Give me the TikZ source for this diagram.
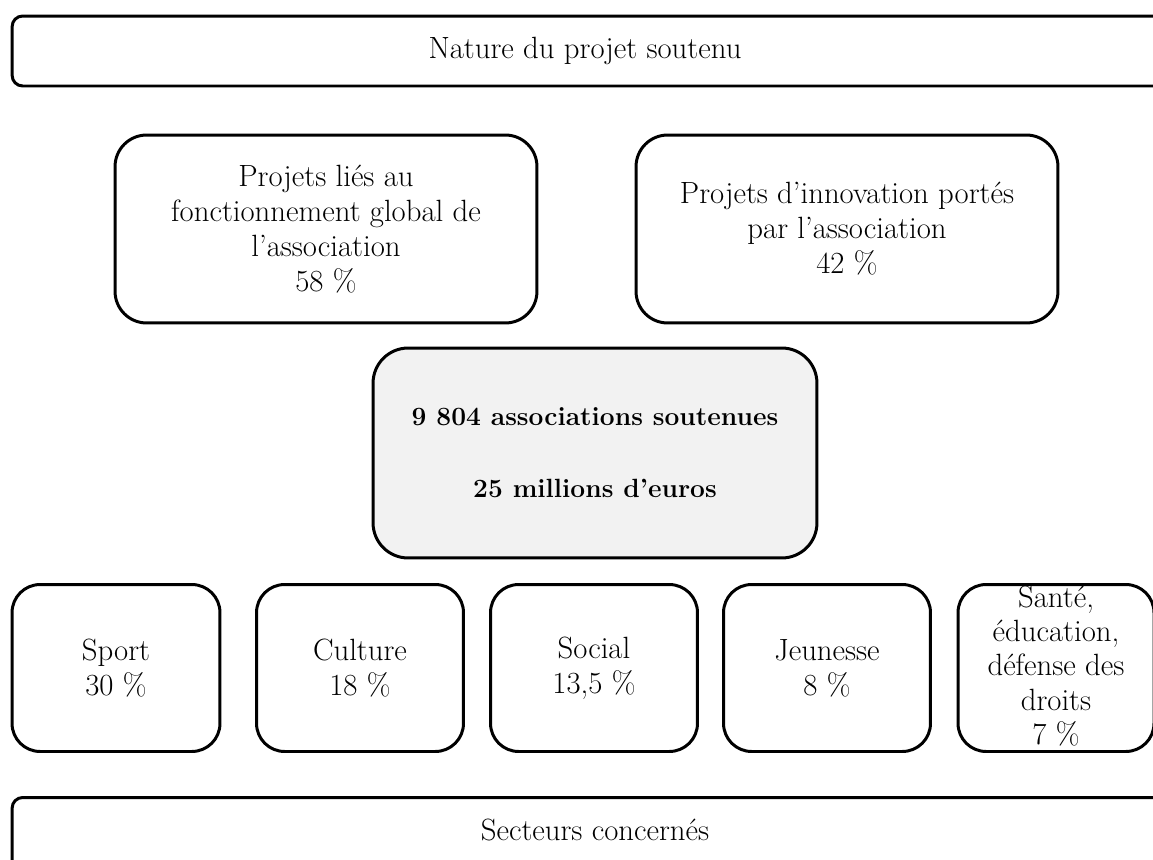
\documentclass[tikz,border=0pt]{standalone}
\usepackage{tikz}
\tikzset{
  cadre/.style={draw=black, line width=1.7pt, align=center, inner sep=0pt,
    font=\fontsize{17.5}{20}\selectfont},
  bandeau/.style={cadre, rounded corners=6pt, minimum height=1.4cm},
  bloc/.style={cadre, rounded corners=18pt, minimum height=3.76cm, minimum width=8.44cm},
  secteur/.style={cadre, rounded corners=16pt, minimum height=3.34cm, minimum width=4.14cm},
  texte/.style={align=center, inner sep=0pt, font=\fontsize{17.5}{20}\selectfont}
}
\begin{document}
\begin{tikzpicture}[x=0.02cm, y=-0.02cm]
    \useasboundingbox (0,0) rectangle (1153,859);
    \clip (0,0) rectangle (1153,859);
    % bandeau du haut
    \node[bandeau, minimum width=23.8cm] (nature) at (607,51) {};
    \node[texte] (nature-txt) at (585,51) {Nature du projet soutenu};
    % nature des projets
    \node[bloc] (global) at (326,229) {Projets liés au\\fonctionnement global de\\l’association\\58 \%};
    \node[bloc] (innov) at (847,229) {Projets d’innovation portés\\par l’association\\42 \%};
    % chiffres clés
    \node[cadre, fill=black!5, rounded corners=20pt, minimum width=8.88cm, minimum height=4.2cm,
          font=\fontsize{15}{19}\selectfont\bfseries] (total) at (595,453)
          {9 804 associations soutenues\\[22pt]25 millions d’euros};
    % secteurs
    \node[secteur, minimum width=4.16cm] (sport) at (116,668) {Sport\\30 \%};
    \node[secteur] (culture) at (360,668) {Culture\\18 \%};
    \node[secteur] (social) at (594,668) {Social\\13,5 \%};
    \node[secteur] (jeunesse) at (827,668) {Jeunesse\\8 \%};
    \node[secteur, minimum width=3.92cm] (sante) at (1056,668) {};
    \node[texte, font=\fontsize{17.5}{19.5}\selectfont] (sante-txt) at (1056,666)
          {Santé,\\éducation,\\défense des\\droits\\7 \%};
    % bandeau du bas
    \node[bandeau, minimum width=23.8cm, minimum height=1.5cm] (secteurs) at (607,835) {};
    \node[texte] (secteurs-txt) at (595,830) {Secteurs concernés};
\end{tikzpicture}
\end{document}
